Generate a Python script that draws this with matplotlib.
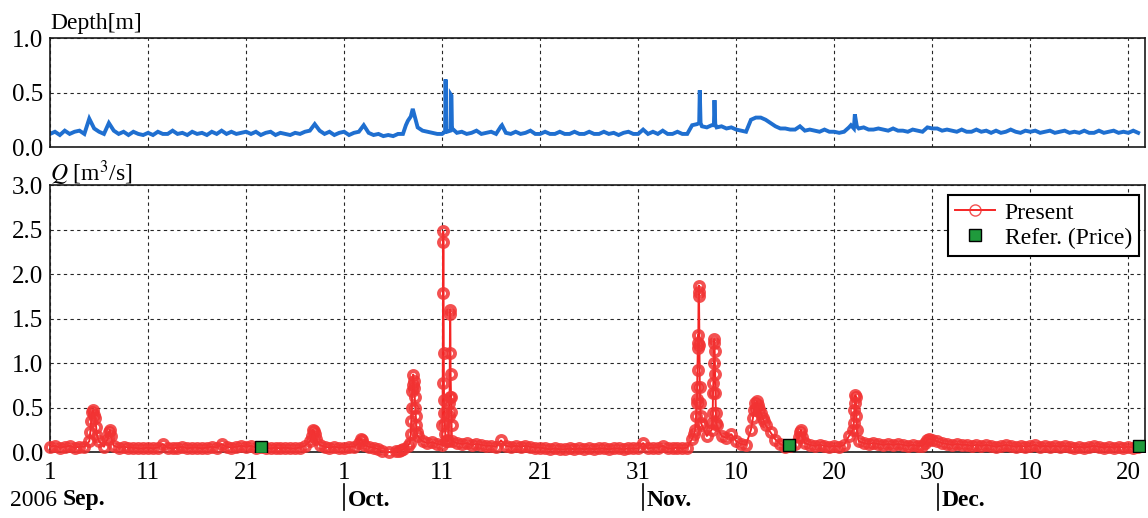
# =============================================================================
# Depth and discharge time series, Sep.-Dec. 2006
# Two stacked panels: water depth (top) and discharge Q (bottom)
# =============================================================================

from datetime import date, timedelta

import matplotlib
matplotlib.use("Agg")
import matplotlib.pyplot as plt
import numpy as np

# Values. Time is in days since 2006-09-01 00:00.
START = date(2006, 9, 1)
STEP = 0.5  # spacing of the base samples (days)

# Depth [m], one value every half day from day 0 to day 111
depth_base = [
    0.12, 0.14, 0.11, 0.15, 0.12, 0.14, 0.15, 0.12, 0.26, 0.17,
    0.14, 0.12, 0.22, 0.15, 0.12, 0.14, 0.11, 0.14, 0.12, 0.11,
    0.13, 0.11, 0.14, 0.12, 0.12, 0.15, 0.12, 0.13, 0.11, 0.14,
    0.12, 0.13, 0.11, 0.14, 0.12, 0.15, 0.12, 0.14, 0.12, 0.13,
    0.14, 0.12, 0.14, 0.11, 0.13, 0.14, 0.11, 0.13, 0.12, 0.11,
    0.13, 0.12, 0.14, 0.15, 0.21, 0.15, 0.12, 0.14, 0.11, 0.13,
    0.14, 0.11, 0.13, 0.14, 0.20, 0.13, 0.11, 0.12, 0.10, 0.11,
    0.10, 0.12, 0.12, 0.24, 0.35, 0.18, 0.15, 0.14, 0.13, 0.12,
    0.12, 0.14, 0.16, 0.13, 0.14, 0.12, 0.13, 0.15, 0.12, 0.13,
    0.14, 0.12, 0.19, 0.13, 0.12, 0.14, 0.12, 0.13, 0.15, 0.12,
    0.12, 0.14, 0.12, 0.12, 0.14, 0.12, 0.12, 0.14, 0.12, 0.12,
    0.14, 0.12, 0.12, 0.14, 0.12, 0.13, 0.11, 0.13, 0.14, 0.12,
    0.12, 0.16, 0.12, 0.14, 0.12, 0.15, 0.12, 0.12, 0.14, 0.12,
    0.12, 0.20, 0.21, 0.19, 0.18, 0.20, 0.18, 0.19, 0.17, 0.18,
    0.16, 0.15, 0.14, 0.25, 0.27, 0.27, 0.25, 0.22, 0.19, 0.17,
    0.17, 0.16, 0.16, 0.19, 0.15, 0.16, 0.15, 0.14, 0.16, 0.14,
    0.14, 0.13, 0.14, 0.18, 0.17, 0.17, 0.18, 0.16, 0.16, 0.17,
    0.16, 0.15, 0.17, 0.15, 0.15, 0.14, 0.16, 0.15, 0.14, 0.18,
    0.17, 0.17, 0.15, 0.16, 0.15, 0.14, 0.16, 0.14, 0.14, 0.16,
    0.14, 0.15, 0.13, 0.15, 0.13, 0.14, 0.16, 0.14, 0.13, 0.15,
    0.14, 0.15, 0.13, 0.14, 0.15, 0.13, 0.14, 0.15, 0.13, 0.14,
    0.13, 0.15, 0.13, 0.13, 0.15, 0.13, 0.14, 0.15, 0.13, 0.14,
    0.13, 0.15, 0.13,
]

# Short depth peaks that fall between the base samples
depth_peak_t = [36.3, 36.8, 40.30, 40.35, 40.42, 40.85, 40.88, 40.95, 41.02, 46.1,
                66.22, 66.28, 66.36, 67.72, 67.78, 67.86, 81.7, 82.1, 82.3]
depth_peak_v = [0.20, 0.28, 0.14, 0.62, 0.15, 0.15, 0.48, 0.47, 0.17, 0.20,
                0.22, 0.52, 0.22, 0.20, 0.43, 0.21, 0.20, 0.30, 0.19]

# Discharge Q [m3/s] ("Present"), one value every half day (nan = no sample)
nan = np.nan
q_base = [
    0.06, 0.07, 0.05, 0.06, 0.07, 0.05, 0.06, 0.06, 0.12, 0.42,
    0.12, 0.06, 0.22, 0.07, 0.05, 0.06, 0.05, 0.05, 0.04, 0.04,
    0.05, 0.04, 0.05, 0.09, 0.05, 0.04, 0.05, 0.06, 0.04, 0.05,
    0.05, 0.04, 0.05, 0.06, 0.05, 0.09, 0.06, 0.05, 0.06, 0.07,
    0.06, 0.07, 0.05, 0.06, 0.05, 0.04, 0.05, 0.04, 0.05, 0.04,
    0.04, 0.05, 0.07, 0.12, 0.20, 0.08, 0.06, 0.05, 0.06, 0.05,
    0.05, 0.06, 0.06, 0.10, 0.08, 0.06, 0.05, 0.03, nan, nan,
    nan, nan, 0.03, 0.07, 0.75, 0.18, 0.12, 0.10, 0.11, 0.09,
    0.08, 0.14, 0.12, 0.10, 0.09, 0.10, 0.08, 0.09, 0.08, 0.07,
    0.07, 0.06, 0.13, 0.07, 0.06, 0.07, 0.06, 0.07, 0.06, 0.05,
    0.05, 0.04, 0.03, 0.04, 0.03, 0.03, 0.04, 0.03, 0.04, 0.03,
    0.04, 0.03, 0.04, 0.04, 0.03, 0.04, 0.04, 0.03, 0.04, 0.04,
    0.04, 0.10, 0.04, 0.05, 0.05, 0.07, 0.04, 0.04, 0.05, 0.04,
    0.05, 0.15, 0.60, 0.30, 0.18, 0.25, 0.30, 0.18, 0.16, 0.20,
    0.12, 0.09, 0.08, 0.25, 0.50, 0.44, 0.30, 0.22, 0.14, 0.09,
    0.06, 0.07, 0.09, 0.22, 0.10, 0.08, 0.07, 0.08, 0.07, 0.06,
    0.07, 0.06, 0.08, 0.18, 0.33, 0.12, 0.10, 0.09, 0.10, 0.09,
    0.08, 0.09, 0.08, 0.09, 0.08, 0.07, 0.08, 0.07, 0.07, 0.14,
    0.14, 0.12, 0.10, 0.09, 0.08, 0.09, 0.08, 0.08, 0.07, 0.08,
    0.07, 0.08, 0.07, 0.06, 0.07, 0.08, 0.07, 0.06, 0.07, 0.06,
    0.07, 0.08, 0.06, 0.07, 0.06, 0.07, 0.06, 0.07, 0.06, 0.05,
    0.06, 0.05, 0.06, 0.07, 0.06, 0.05, 0.06, 0.05, 0.06, 0.05,
    0.06, 0.05, 0.06,
]

# Dense samples during the floods (read as columns of circles)
q_peak_t = [
    4.1, 4.2, 4.3, 4.4, 4.6, 4.7, 4.8,
    5.9, 6.1, 6.2,
    26.7, 26.8, 26.9, 27.1,
    31.7, 31.8,
    33.9, 34.6, 35.3, 35.6, 35.8,
    36.7, 36.8, 36.85, 36.9, 36.95, 37.05, 37.1, 37.15, 37.2, 37.25, 37.3, 37.35, 37.4,
    40.03, 40.06, 40.09, 40.11, 40.13, 40.16, 40.19, 40.22, 40.26, 40.32, 40.4,
    40.6, 40.68, 40.72, 40.76, 40.79, 40.81, 40.83, 40.86, 40.9, 40.93, 40.96,
    65.7, 65.8, 65.9, 65.95, 66.02, 66.05, 66.08, 66.1, 66.13, 66.16, 66.18,
    66.2, 66.24, 66.28, 66.32, 66.36, 66.42,
    67.55, 67.6, 67.63, 67.66, 67.7, 67.73, 67.76, 67.8, 67.84, 67.88, 67.92, 67.96,
    71.7, 71.8, 71.9, 72.1, 72.2, 72.3, 72.7, 72.8,
    76.4, 76.6, 76.7,
    81.9, 82.05, 82.1, 82.15, 82.2, 82.25, 82.3,
    89.3, 89.7,
]
q_peak_v = [
    0.22, 0.35, 0.45, 0.47, 0.38, 0.28, 0.18,
    0.15, 0.25, 0.18,
    0.18, 0.25, 0.24, 0.15,
    0.15, 0.13,
    0.01, 0.00, 0.01, 0.01, 0.02,
    0.10, 0.20, 0.35, 0.50, 0.68, 0.87, 0.80, 0.72, 0.62, 0.50, 0.40, 0.30, 0.22,
    0.30, 0.77, 1.79, 2.48, 2.36, 1.11, 0.58, 0.44, 0.33, 0.20, 0.12,
    0.12, 0.40, 0.55, 0.62, 1.11, 1.60, 1.55, 0.88, 0.62, 0.45, 0.30,
    0.20, 0.25, 0.40, 0.55, 0.73, 0.92, 1.17, 1.31, 1.22, 1.80, 1.87,
    1.75, 1.20, 0.73, 0.55, 0.40, 0.33,
    0.33, 0.44, 0.66, 0.77, 1.00, 1.22, 1.27, 1.13, 0.88, 0.66, 0.44, 0.33,
    0.38, 0.47, 0.55, 0.57, 0.53, 0.48, 0.38, 0.35,
    0.17, 0.25, 0.17,
    0.25, 0.47, 0.55, 0.64, 0.62, 0.40, 0.25,
    0.10, 0.15,
]

# Reference discharge (Price current meter)
ref_t = [21.5, 75.4, 111.1]
ref_q = [0.06, 0.08, 0.07]

# Month separators under the axis
month_names = ["Oct.", "Nov.", "Dec."]
month_days = [30.0, 60.5, 90.6]

X_MAX = 111.7
TICK_DAYS = np.arange(0, 111, 10)
FS = 17
FS_TICK = 18


def merge_series(base, peak_t, peak_v):
    """
    Combine the half-day base samples with the extra peak samples,
    drop missing values and sort by time.
    """
    base = np.asarray(base, dtype=float)
    t = np.concatenate([np.arange(len(base)) * STEP, peak_t])
    v = np.concatenate([base, peak_v])
    keep = ~np.isnan(v)
    order = np.argsort(t[keep], kind="stable")
    return t[keep][order], v[keep][order]


def style_axis(ax, yticks, ylim):
    """Grid, ticks and frame shared by both panels."""
    ax.set_xlim(0, X_MAX)
    ax.set_ylim(*ylim)
    ax.set_yticks(yticks)
    ax.set_yticklabels([f"{y:.1f}" for y in yticks])
    ax.set_xticks(TICK_DAYS)
    ax.grid(True, color="0.15", linestyle=(0, (3, 3)), linewidth=0.8)
    ax.tick_params(length=0, labelsize=FS_TICK, pad=5)
    for spine in ax.spines.values():
        spine.set_linewidth(1.2)
        spine.set_color("0.1")


def main():
    plt.rcParams["font.family"] = ["Liberation Serif", "DejaVu Serif"]
    plt.rcParams["mathtext.fontset"] = "stix"

    fig = plt.figure(figsize=(11.48, 5.18), dpi=100)
    ax_d = fig.add_axes([0.0436, 0.7162, 0.9538, 0.2104])
    ax_q = fig.add_axes([0.0436, 0.1274, 0.9538, 0.5154])

    # --- Top panel: depth ---
    t_d, v_d = merge_series(depth_base, depth_peak_t, depth_peak_v)
    ax_d.plot(t_d, v_d, color="#1f6fd0", linewidth=2.8, solid_joinstyle="miter")
    style_axis(ax_d, [0.0, 0.5, 1.0], (0, 1.0))
    ax_d.set_xticklabels([])
    fig.text(50 / 1148, 1 - 23 / 518, "Depth[m]", fontsize=FS, va="center", ha="left")

    # --- Bottom panel: discharge ---
    t_q, v_q = merge_series(q_base, q_peak_t, q_peak_v)
    ax_q.plot(t_q, v_q, color="#f52525", linewidth=1.4,
              marker="o", markersize=6.5, markerfacecolor="none",
              markeredgecolor=(0.95, 0.2, 0.2, 0.85), markeredgewidth=2.8,
              label="Present", zorder=3, clip_on=False)
    ax_q.plot(ref_t, ref_q, linestyle="none", marker="s", markersize=8,
              markerfacecolor="#1f9a3c", markeredgecolor="black",
              markeredgewidth=1.0, label="Refer. (Price)", zorder=4)
    style_axis(ax_q, np.arange(0, 3.01, 0.5), (0, 3.0))
    ax_q.set_xticklabels([(START + timedelta(days=int(d))).day for d in TICK_DAYS])
    ax_q.tick_params(axis="x", pad=7)
    fig.text(50 / 1148, 1 - 173 / 518, r"$Q$ [m$^3$/s]", fontsize=FS,
             va="center", ha="left")

    leg = ax_q.legend(loc="upper right", bbox_to_anchor=(0.9945, 0.9625),
                      borderaxespad=0, fontsize=FS, frameon=True, fancybox=False,
                      edgecolor="black", framealpha=1, handlelength=1.7,
                      handletextpad=0.4, labelspacing=0.15, borderpad=0.3)
    leg.get_frame().set_linewidth(1.5)
    # thin open circle in the legend handle, as in the source
    leg.get_lines()[0].set_markeredgewidth(1.0)
    leg.get_lines()[0].set_markersize(8)

    # Year and month labels under the x axis
    fig.text(10 / 1148, 1 - 500 / 518, "2006", fontsize=FS, va="center", ha="left")
    fig.text(63 / 1148, 1 - 500 / 518, "Sep.", fontsize=FS, va="center",
             ha="left", fontweight="bold")
    trans = ax_q.get_xaxis_transform()
    for name, day in zip(month_names, month_days):
        ax_q.plot([day, day], [-0.118, -0.218], color="black", linewidth=1.2,
                  transform=trans, clip_on=False)
        ax_q.text(day + 0.4, -0.18, name, transform=trans, fontsize=FS,
                  fontweight="bold", va="center", ha="left")

    fig.savefig("out.png", dpi=100)
    plt.close(fig)


if __name__ == "__main__":
    main()
